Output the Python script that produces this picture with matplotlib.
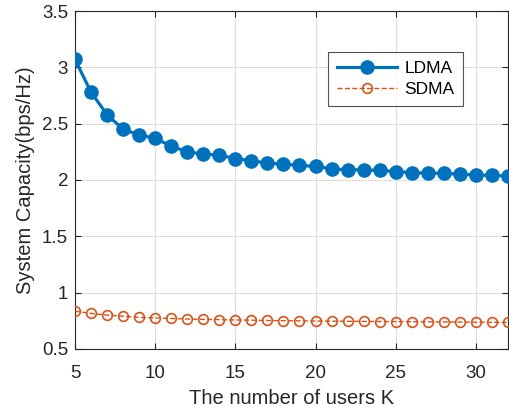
import matplotlib
matplotlib.use("Agg")
import matplotlib.pyplot as plt

plt.rcParams['font.family'] = ['Liberation Sans', 'DejaVu Sans']

users_k = list(range(5, 33))
ldma = [3.07, 2.78, 2.58, 2.45, 2.40, 2.37, 2.30, 2.25, 2.23, 2.22, 2.19, 2.17,
        2.15, 2.14, 2.13, 2.12, 2.10, 2.09, 2.09, 2.085, 2.075, 2.065, 2.06, 2.06,
        2.05, 2.045, 2.04, 2.035]
sdma = [0.835, 0.815, 0.80, 0.79, 0.78, 0.775, 0.77, 0.765, 0.762, 0.76, 0.757,
        0.755, 0.752, 0.75, 0.749, 0.747, 0.746, 0.745, 0.744, 0.743, 0.742,
        0.741, 0.740, 0.739, 0.738, 0.737, 0.736, 0.735]

blue = '#0072BD'
orange = '#D95319'
ink = '#262626'

fig = plt.figure(figsize=(5.1, 4.09), dpi=100)
ax = fig.add_axes([0.147, 0.147, 0.849, 0.826])

ax.plot(users_k, ldma, '-o', color=blue, lw=2.3, ms=9.5, label='LDMA', zorder=3)
ax.plot(users_k, sdma, '--o', color=orange, lw=1.0, ms=7, mfc='none', mew=1.2,
        label='SDMA', zorder=3)

ax.set_xlim(5, 32)
ax.set_ylim(0.5, 3.5)
ax.set_xticks([5, 10, 15, 20, 25, 30])
ax.set_yticks([0.5, 1, 1.5, 2, 2.5, 3, 3.5])
ax.set_yticklabels(['0.5', '1', '1.5', '2', '2.5', '3', '3.5'])

ax.grid(True, color='#dcdcdc', lw=0.8)
ax.set_axisbelow(True)
for s in ax.spines.values():
    s.set_color(ink)
    s.set_linewidth(0.8)
ax.tick_params(direction='in', top=True, right=True, labelsize=13.5,
               colors=ink, length=4, width=0.8)
ax.tick_params(axis='x', pad=11.5)
ax.tick_params(axis='y', pad=5)

ax.set_xlabel('The number of users K', fontsize=14.5, color=ink, labelpad=5)
ax.set_ylabel('System Capacity(bps/Hz)', fontsize=14.5, color=ink, labelpad=5)

leg = ax.legend(loc='upper left', bbox_to_anchor=(0.584, 0.879), borderaxespad=0,
                fontsize=12.5, frameon=True, fancybox=False, edgecolor=ink,
                handlelength=3.5, handletextpad=0.4, borderpad=0.5,
                labelspacing=0.35)
leg.get_frame().set_linewidth(0.8)

fig.savefig('out.png', dpi=100)
